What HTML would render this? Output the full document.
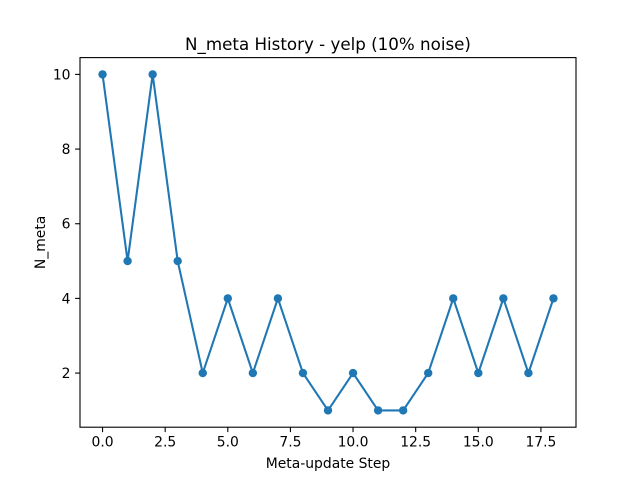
<!DOCTYPE html>
<html><head><meta charset="utf-8"><style>
body{margin:0;background:#fff;}
svg{display:block;font-family:"DejaVu Sans","Liberation Sans",sans-serif;}
</style></head><body>
<svg id="chart" width="640" height="480" viewBox="0 0 640 480" xmlns="http://www.w3.org/2000/svg">
<rect width="640" height="480" fill="#fff"/>
<text x="328" y="50" font-size="16.7" text-anchor="middle">N_meta History - yelp (10% noise)</text>
<g id="ticks"></g>
<g id="series"></g>
<rect x="80" y="57.6" width="496" height="369.6" fill="none" stroke="#000" stroke-width="1.1"/>
<text x="328" y="468" font-size="13.9" text-anchor="middle">Meta-update Step</text>
<text x="0" y="0" font-size="13.9" text-anchor="middle" transform="translate(45,242.4) rotate(-90)">N_meta</text>
</svg>
<script>
const steps=[0,1,2,3,4,5,6,7,8,9,10,11,12,13,14,15,16,17,18];
const nMeta=[10,5,10,5,2,4,2,4,2,1,2,1,1,2,4,2,4,2,4];
const xTicks=[0,2.5,5,7.5,10,12.5,15,17.5];
const xTickLabels=["0.0","2.5","5.0","7.5","10.0","12.5","15.0","17.5"];
const yTicks=[2,4,6,8,10];
const yTickLabels=["2","4","6","8","10"];
const L=80,R=576,T=57.6,B=427.2;
const xmin=Math.min(...steps),xmax=Math.max(...steps),xm=(xmax-xmin)*0.05;
const ymin=Math.min(...nMeta),ymax=Math.max(...nMeta),ym=(ymax-ymin)*0.05;
const sx=v=>L+(v-(xmin-xm))/((xmax+xm)-(xmin-xm))*(R-L);
const sy=v=>B-(v-(ymin-ym))/((ymax+ym)-(ymin-ym))*(B-T);
const NS="http://www.w3.org/2000/svg";
const tg=document.getElementById('ticks'),sg=document.getElementById('series');
function mk(tag,attrs,parent){const e=document.createElementNS(NS,tag);for(const k in attrs)e.setAttribute(k,attrs[k]);parent.appendChild(e);return e;}
xTicks.forEach((v,i)=>{
 const l=mk('line',{x1:sx(v),x2:sx(v),y1:B,y2:B+4.9,stroke:'#000','stroke-width':1.1},tg);
 
 
 const t=mk('text',{x:sx(v),y:B+19.5,'font-size':13.9,'text-anchor':'middle'},tg);
 t.textContent=xTickLabels[i];
 
 
});
yTicks.forEach((v,i)=>{
 const l=mk('line',{x1:L-4.9,x2:L,y1:sy(v),y2:sy(v),stroke:'#000','stroke-width':1.1},tg);
 
 
 const t=mk('text',{x:L-9.5,y:sy(v)+5,'font-size':13.9,'text-anchor':'end'},tg);
 t.textContent=yTickLabels[i];
 
 
});
const pts=steps.map((s,i)=>sx(s)+','+sy(nMeta[i])).join(' ');
const pl=mk('polyline',{points:pts,fill:'none',stroke:'#1f77b4','stroke-width':2.08},sg);


steps.forEach((s,i)=>{
 const c=mk('circle',{cx:sx(s),cy:sy(nMeta[i]),r:4.2,fill:'#1f77b4'},sg);
 
 
});
</script>
</body></html>
